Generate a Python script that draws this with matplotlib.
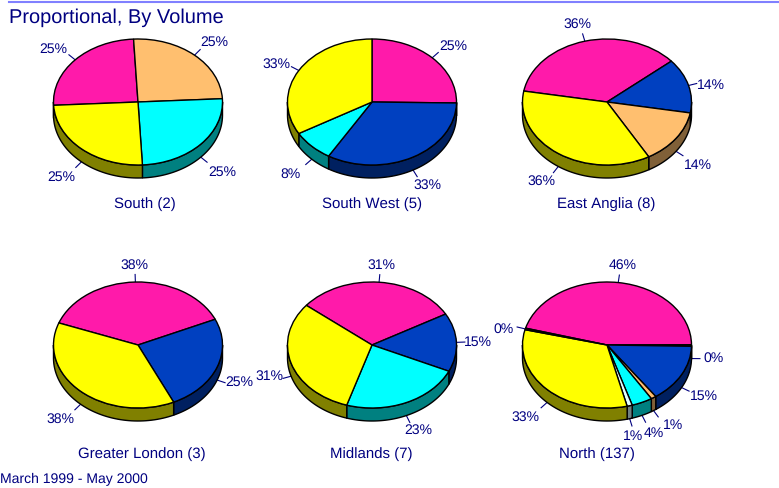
import numpy as np
import matplotlib
matplotlib.use("Agg")
import matplotlib.pyplot as plt
from matplotlib.lines import Line2D

plt.rcParams["font.family"] = ["Liberation Sans", "DejaVu Sans"]
plt.rcParams["text.hinting"] = "no_hinting"
plt.rcParams["text.hinting_factor"] = 1

W, H = 779, 488
NAVY = "#000080"
PINK = "#ff1aaa"
BLUE = "#0040c0"
PEACH = "#ffbf6f"
CYAN = "#00ffff"
PALE = "#e0ffff"
YELLOW = "#ffff00"
DARK = "#800000"

# one list per region, clockwise from the start angle
regions = ["South (2)", "South West (5)", "East Anglia (8)",
           "Greater London (3)", "Midlands (7)", "North (137)"]
south = [25, 25, 25, 25]
south_west = [25, 33, 8, 33]
east_anglia = [36, 14, 14, 36]
greater_london = [38, 25, 38]
midlands = [31, 15, 23, 31]
north = [46, 0.4, 15, 1, 4, 1, 33, 0.4]

south_colors = [PINK, PEACH, CYAN, YELLOW]
south_west_colors = [PINK, BLUE, CYAN, YELLOW]
east_anglia_colors = [PINK, BLUE, PEACH, YELLOW]
greater_london_colors = [PINK, BLUE, YELLOW]
midlands_colors = [PINK, BLUE, CYAN, YELLOW]
north_colors = [PINK, DARK, BLUE, PEACH, CYAN, PALE, YELLOW, DARK]

start_angles = [183, 90, 170, 159.5, 141, 164.5]
all_values = [south, south_west, east_anglia, greater_london, midlands, north]
all_colors = [south_colors, south_west_colors, east_anglia_colors,
              greater_london_colors, midlands_colors, north_colors]

# pie layout in pixels
centers = [(138, 102), (372, 102), (607, 102), (138, 345), (372, 345), (607, 345)]
caption_pos = [(145, 204), (372, 204), (606, 204), (142, 454), (371, 454), (597, 454)]
RX, RY, DEPTH = 84.5, 63, 13
SPAN = 1.7

# the three small North labels sit too close, so spread them by hand (pixels)
nudges = {(5, 3): (3, 0), (5, 4): (-1, -3), (5, 5): (-5, -3)}


def darker(color):
    r, g, b = matplotlib.colors.to_rgb(color)
    return (r * 0.5, g * 0.5, b * 0.5)


def label_offset(c, s):
    # pixels from the rim to the middle of the label
    dx = np.sign(c) * min(30 * abs(c), 22)
    if s >= 0:
        dy = np.clip(30 * (s - 0.3), 0, 17)
    else:
        dy = -np.clip(50 * (-s - 0.3), 0, 15)
    return dx, dy


def draw_pie(fig, index, cx, cy, values, colors, start, title, cap):
    ax = fig.add_axes([(cx - SPAN * RX) / W, 1 - (cy + SPAN * RY) / H,
                       2 * SPAN * RX / W, 2 * SPAN * RY / H])
    ax.pie(values, colors=colors, startangle=start, counterclock=False,
           wedgeprops=dict(edgecolor="black", linewidth=1, zorder=3))
    ax.set_aspect("auto")
    ax.set_xlim(-SPAN, SPAN)
    ax.set_ylim(-SPAN, SPAN)
    ax.patch.set_visible(False)

    drop = DEPTH / RY
    fracs = np.array(values) / sum(values)
    a = start
    for i, (frac, color, value) in enumerate(zip(fracs, colors, values)):
        b = a - frac * 360
        # the side wall only shows on the front half
        for shift in (0, -360, 360):
            lo = max(b, -180 + shift)
            hi = min(a, shift)
            if hi > lo:
                t = np.radians(np.linspace(hi, lo, 60))
                xs = np.concatenate([np.cos(t), np.cos(t[::-1])])
                ys = np.concatenate([np.sin(t), np.sin(t[::-1]) - drop])
                ax.fill(xs, ys, facecolor=darker(color), edgecolor="black",
                        linewidth=1, zorder=2)

        # leader line and label, worked out from the slice middle
        mid = np.radians((a + b) / 2)
        c, s = np.cos(mid), np.sin(mid)
        low = drop if s < 0 else 0
        ax.add_line(Line2D([c, c * 1.1], [s - low, s * 1.12 - low],
                           color=NAVY, linewidth=0.8, zorder=1, clip_on=False))
        dx, dy = label_offset(c, s)
        nx, ny = nudges.get((index, i), (0, 0))
        ax.text(c + (dx + nx) / RX, s - low + (dy + ny) / RY, f"{round(value)}%",
                color=NAVY, fontsize=9.8, ha="center", va="center", clip_on=False)
        a = b

    fig.text(cap[0] / W, 1 - cap[1] / H, title, color=NAVY, fontsize=10.8,
             ha="center", va="center")


fig = plt.figure(figsize=(W / 100, H / 100), dpi=100)
fig.add_artist(Line2D([9 / W, 1], [1 - 2 / H, 1 - 2 / H], color="#8080ff", linewidth=1.5))
fig.text(9 / W, 1 - 18 / H, "Proportional, By Volume", color=NAVY, fontsize=14.3,
         ha="left", va="center")
fig.text(0, 1 - 479 / H, "March 1999 - May 2000", color=NAVY, fontsize=9.8,
         ha="left", va="center")

for index in range(len(regions)):
    cx, cy = centers[index]
    draw_pie(fig, index, cx, cy, all_values[index], all_colors[index],
             start_angles[index], regions[index], caption_pos[index])

fig.savefig("out.png", dpi=100)
